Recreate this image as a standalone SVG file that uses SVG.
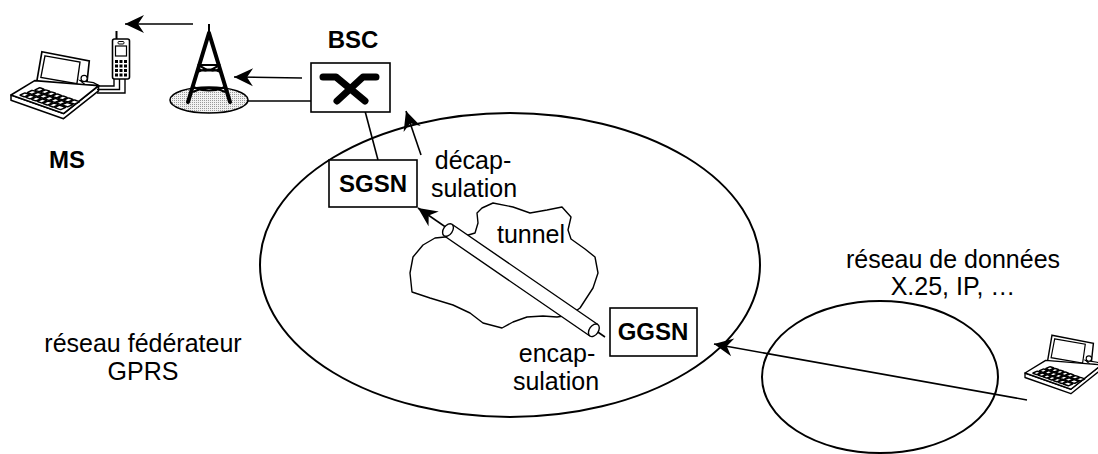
<svg xmlns="http://www.w3.org/2000/svg" width="1098" height="454" viewBox="0 0 1098 454">
  <style>
    .txt { font-family: "Liberation Sans", Arial, sans-serif; font-size: 25px; fill: #000; }
    .bold { font-family: "Liberation Sans", Arial, sans-serif; font-size: 24px; font-weight: bold; fill: #000; }
    .box { fill: #fff; stroke: #000; stroke-width: 1.6; }
    .area { fill: none; stroke: #000; stroke-width: 2; }
    .conn { fill: none; stroke: #000; stroke-width: 1.6; }
    .thin { fill: none; stroke: #000; stroke-width: 1.4; }
  </style>
  <defs>
    <marker id="arrow" viewBox="-22 -11 24 22" refX="0" refY="0" markerWidth="24" markerHeight="22" markerUnits="userSpaceOnUse" orient="auto">
      <path d="M0,0 L-19,-9 L-13,0 L-19,9 Z" fill="#000"/>
    </marker>
    <pattern id="stipple" width="2" height="2" patternUnits="userSpaceOnUse">
      <rect width="2" height="2" fill="#f2f2f2"/>
      <rect width="1" height="1" fill="#9a9a9a"/>
    </pattern>
    <!-- laptop, origin at the left corner of the base -->
    <g id="laptop">
      <!-- screen -->
      <path d="M30,-42 L76,-33 L73,-5 L25,-13 Z" fill="#fff" stroke="#000" stroke-width="1.6"/>
      <path d="M33,-38 L67,-32 L64,-11 L29,-17 Z" fill="#fff" stroke="#000" stroke-width="1.3"/>
      <!-- hinge block and knob -->
      <path d="M67,-14 L80,-12 L86,-9 L72,-10 Z" fill="#fff" stroke="#000" stroke-width="1.2"/>
      <circle cx="71" cy="-16" r="3" fill="#fff" stroke="#000" stroke-width="1.2"/>
      <!-- base slab -->
      <path d="M0,0 L51,18 L85,-9 L85,-4 L51,23 L0,5 Z" fill="#fff" stroke="#000" stroke-width="1.5" stroke-linejoin="round"/>
      <path d="M0,0 L23,-14 L85,-9 L51,18 Z" fill="#fff" stroke="#000" stroke-width="1.6" stroke-linejoin="round"/>
      <!-- keys -->
      <g transform="matrix(0.51,0.18,0.28,-0.13,0,0)" fill="#fff" stroke="#000" stroke-width="1.5">
        <rect x="10" y="12" width="9" height="18" rx="2" vector-effect="non-scaling-stroke"/>
        <rect x="21" y="12" width="9" height="18" rx="2" vector-effect="non-scaling-stroke"/>
        <rect x="32" y="12" width="9" height="18" rx="2" vector-effect="non-scaling-stroke"/>
        <rect x="43" y="12" width="9" height="18" rx="2" vector-effect="non-scaling-stroke"/>
        <rect x="54" y="12" width="9" height="18" rx="2" vector-effect="non-scaling-stroke"/>
        <rect x="65" y="12" width="9" height="18" rx="2" vector-effect="non-scaling-stroke"/>
        <rect x="76" y="12" width="12" height="18" rx="2" vector-effect="non-scaling-stroke"/>
        <rect x="12" y="34" width="9" height="18" rx="2" vector-effect="non-scaling-stroke"/>
        <rect x="23" y="34" width="9" height="18" rx="2" vector-effect="non-scaling-stroke"/>
        <rect x="34" y="34" width="9" height="18" rx="2" vector-effect="non-scaling-stroke"/>
        <rect x="45" y="34" width="9" height="18" rx="2" vector-effect="non-scaling-stroke"/>
        <rect x="56" y="34" width="9" height="18" rx="2" vector-effect="non-scaling-stroke"/>
        <rect x="67" y="34" width="9" height="18" rx="2" vector-effect="non-scaling-stroke"/>
        <rect x="78" y="34" width="11" height="18" rx="2" vector-effect="non-scaling-stroke"/>
        <rect x="14" y="56" width="9" height="18" rx="2" vector-effect="non-scaling-stroke"/>
        <rect x="25" y="56" width="9" height="18" rx="2" vector-effect="non-scaling-stroke"/>
        <rect x="36" y="56" width="9" height="18" rx="2" vector-effect="non-scaling-stroke"/>
        <rect x="47" y="56" width="9" height="18" rx="2" vector-effect="non-scaling-stroke"/>
        <rect x="58" y="56" width="9" height="18" rx="2" vector-effect="non-scaling-stroke"/>
        <rect x="69" y="56" width="9" height="18" rx="2" vector-effect="non-scaling-stroke"/>
        <rect x="80" y="56" width="10" height="18" rx="2" vector-effect="non-scaling-stroke"/>
      </g>
    </g>
  </defs>

  <rect width="1098" height="454" fill="#fff"/>

  <!-- networks -->
  <g id="backbone">
    <ellipse class="area" cx="510" cy="265" rx="250" ry="152"/>
    <text class="txt" x="143" y="352" text-anchor="middle">réseau fédérateur</text>
    <text class="txt" x="143" y="380" text-anchor="middle">GPRS</text>
  </g>
  <g id="datanet">
    <ellipse class="area" cx="880" cy="377" rx="118" ry="76"/>
    <text class="txt" x="953" y="268" text-anchor="middle">réseau de données</text>
    <text class="txt" x="953" y="295" text-anchor="middle">X.25, IP, …</text>
  </g>

  <!-- tunnel cloud -->
  <g id="cloud">
    <path class="thin" d="M445,237 L435,238 L423,245 L413,257 L410,273 L412,292 L430,298 L453,305 L470,313 L483,323 L502,328 L513,322 L527,317 L543,316 L557,317 L570,315 L580,308 L593,288 L598,273 L595,257 L585,249 L571,239 L568,230 L571,217 L562,207 L547,210 L530,213 L513,207 L493,203 L482,208 L477,213 L478,223 L475,233 L465,236 Z" stroke-linejoin="round"/>
    <text class="txt" x="531" y="243" text-anchor="middle">tunnel</text>
  </g>

  <!-- connectors -->
  <g id="connectors">
    <line class="conn" x1="193" y1="24" x2="125" y2="24" marker-end="url(#arrow)"/>
    <line class="conn" x1="302" y1="78" x2="234" y2="77" marker-end="url(#arrow)"/>
    <line class="conn" x1="247" y1="101" x2="311" y2="101"/>
    <line class="conn" x1="365" y1="111" x2="378" y2="160"/>
    <line class="conn" x1="421" y1="155" x2="406" y2="111" marker-end="url(#arrow)"/>
    <line class="conn" x1="605" y1="337" x2="418" y2="208" marker-end="url(#arrow)"/>
    <line class="conn" x1="1027" y1="400" x2="714" y2="344" marker-end="url(#arrow)"/>
  </g>

  <!-- tunnel pipe -->
  <g id="pipe" transform="translate(448,230) rotate(34.5)">
    <rect x="0" y="-7" width="177" height="14" fill="#fff"/>
    <path d="M0,-7 L177,-7 M0,7 L177,7" stroke="#000" stroke-width="1.4" fill="none"/>
    <ellipse cx="0" cy="0" rx="4.5" ry="7" fill="#fff" stroke="#000" stroke-width="1.4"/>
    <ellipse cx="177" cy="0" rx="4.5" ry="7" fill="#fff" stroke="#000" stroke-width="1.4"/>
  </g>

  <!-- mobile station: laptop and phone -->
  <g id="ms">
    <use href="#laptop" transform="translate(11,95) scale(1.03)"/>
    <path d="M96,86 H114 V79 M97,89.5 H119.5 V79 M97,93 H125 V79" fill="none" stroke="#000" stroke-width="1.4"/>
    <line x1="116.5" y1="31" x2="116.5" y2="40" stroke="#000" stroke-width="2"/>
    <rect x="112.5" y="39" width="17" height="40" rx="2" fill="#fff" stroke="#000" stroke-width="1.6"/>
    <rect x="118" y="41.5" width="6" height="2.5" rx="1" fill="none" stroke="#000" stroke-width="1"/>
    <rect x="115.5" y="46" width="11" height="10" fill="#fff" stroke="#000" stroke-width="1.2"/>
    <g fill="#000">
      <rect x="115" y="60" width="3" height="3"/><rect x="119.5" y="60" width="3" height="3"/><rect x="124" y="60" width="3" height="3"/>
      <rect x="115" y="64.5" width="3" height="3"/><rect x="119.5" y="64.5" width="3" height="3"/><rect x="124" y="64.5" width="3" height="3"/>
      <rect x="115" y="69" width="3" height="3"/><rect x="119.5" y="69" width="3" height="3"/><rect x="124" y="69" width="3" height="3"/>
      <rect x="115" y="73.5" width="3" height="3"/><rect x="119.5" y="73.5" width="3" height="3"/><rect x="124" y="73.5" width="3" height="3"/>
    </g>
    <text class="bold" x="67" y="168" text-anchor="middle">MS</text>
  </g>

  <!-- base transceiver station -->
  <g id="bts">
    <ellipse cx="209" cy="100" rx="39" ry="13" fill="url(#stipple)" stroke="#000" stroke-width="1.6"/>
    <line x1="209" y1="24" x2="209" y2="36" stroke="#000" stroke-width="2"/>
    <path d="M209,33 L188,102 M209,33 L230,102" fill="none" stroke="#000" stroke-width="4" stroke-linecap="round"/>
    <path d="M199,65 H219 M198,64 Q209,74 220,69 M220,64 Q209,74 198,69 M197,72 Q209,67 221,72" fill="none" stroke="#000" stroke-width="2.2"/>
    <path d="M193,87 Q209,94 225,87 M193,92 Q209,84 225,92 M194,88 H224" fill="none" stroke="#000" stroke-width="2.2"/>
  </g>

  <!-- base station controller -->
  <g id="bsc">
    <text class="bold" x="353" y="48" text-anchor="middle">BSC</text>
    <rect class="box" x="311" y="63" width="79" height="49"/>
    <path d="M323,77 H336 L365,101 M376,77 H363 L337,101" fill="none" stroke="#000" stroke-width="7" stroke-linecap="round" stroke-linejoin="round"/>
  </g>

  <!-- serving support node -->
  <g id="sgsn">
    <rect class="box" x="329" y="160" width="88" height="47"/>
    <text class="bold" x="373" y="192" text-anchor="middle">SGSN</text>
    <text class="txt" x="473" y="169" text-anchor="middle">décap-</text>
    <text class="txt" x="474" y="197" text-anchor="middle">sulation</text>
  </g>

  <!-- gateway support node -->
  <g id="ggsn">
    <rect class="box" x="610" y="308" width="87" height="48"/>
    <text class="bold" x="653" y="340" text-anchor="middle">GGSN</text>
    <text class="txt" x="557" y="362" text-anchor="middle">encap-</text>
    <text class="txt" x="556" y="390" text-anchor="middle">sulation</text>
  </g>

  <!-- remote host -->
  <g id="host">
    <use href="#laptop" transform="translate(1025,373) scale(0.9)"/>
  </g>
</svg>
